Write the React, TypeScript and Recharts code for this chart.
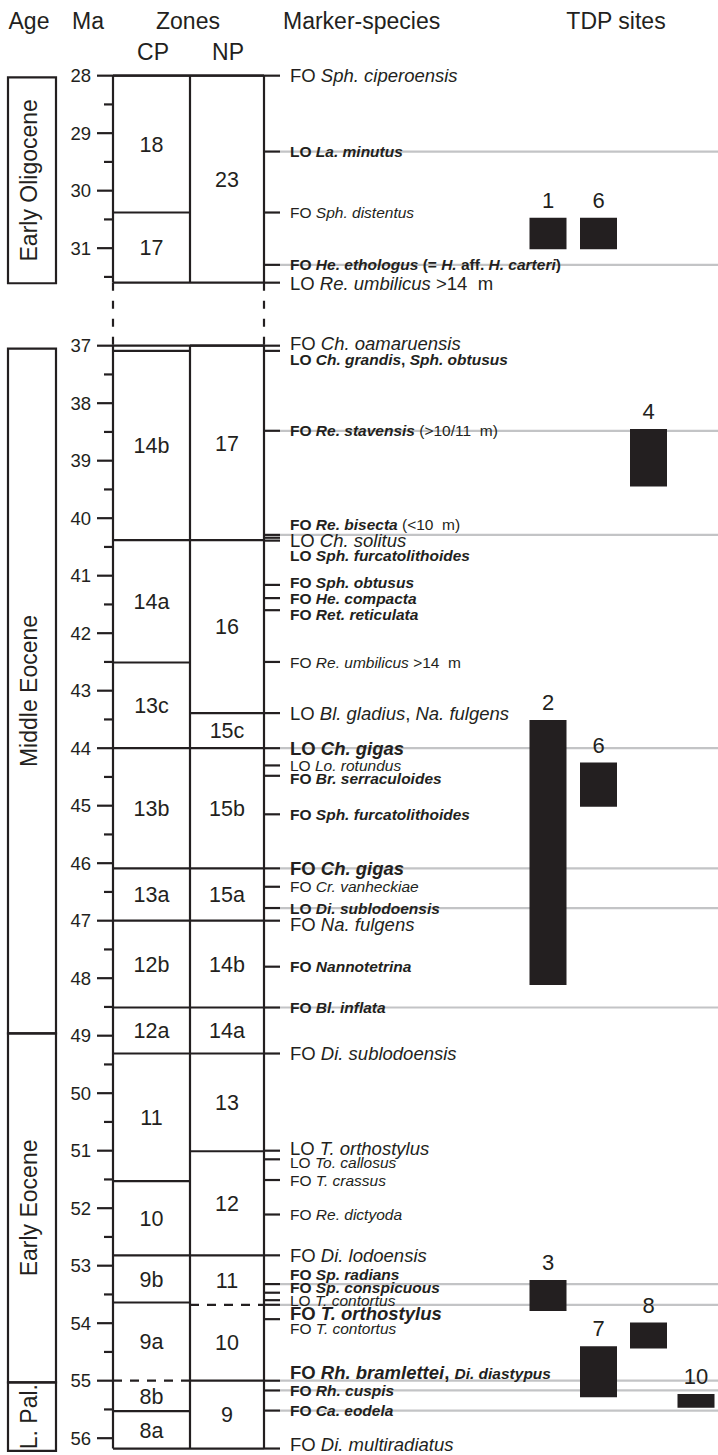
import React from "react";
import {
  ComposedChart,
  XAxis,
  YAxis,
  Scatter,
  ReferenceLine,
  ReferenceArea,
} from "recharts";

// ---- Ma axis ----
const majorTicks = [28, 29, 30, 31, 37, 38, 39, 40, 41, 42, 43, 44, 45, 46, 47, 48, 49, 50, 51, 52, 53, 54, 55, 56];
const minorTicks = [28.5, 29.5, 30.5, 31.5, 37.5, 38.5, 39.5, 40.5, 41.5, 42.5, 43.5, 44.5, 45.5, 46.5, 47.5, 48.5, 49.5, 50.5, 51.5, 52.5, 53.5, 54.5, 55.5];

// two drawn intervals of the column, with a break between them
const frameTop = [28.0, 37.0];
const frameBase = [31.6, 56.18];

// ---- ages ----
const ageNames = ["Early Oligocene", "Middle Eocene", "Early Eocene", "L. Pal."];
const ageTop = [28.03, 37.05, 48.96, 55.03];
const ageBase = [31.61, 48.96, 55.03, 56.22];

// ---- zones ----
const cpNames = ["18", "17", "14b", "14a", "13c", "13b", "13a", "12b", "12a", "11", "10", "9b", "9a", "8b", "8a"];
const cpTop = [28.0, 30.38, 37.09, 40.38, 42.51, 44.0, 46.09, 47.0, 48.51, 49.31, 51.53, 52.82, 53.64, 55.0, 55.53];
const cpBase = [30.38, 31.6, 40.38, 42.51, 44.0, 46.09, 47.0, 48.51, 49.31, 51.53, 52.82, 53.64, 55.0, 55.53, 56.18];
const cpDashed = [55.0];

const npNames = ["23", "17", "16", "15c", "15b", "15a", "14b", "14a", "13", "12", "11", "10", "9"];
const npTop = [28.0, 37.0, 40.38, 43.39, 44.0, 46.09, 47.0, 48.51, 49.31, 51.01, 52.82, 53.68, 55.0];
const npBase = [31.6, 40.38, 43.39, 44.0, 46.09, 47.0, 48.51, 49.31, 51.01, 52.82, 53.68, 55.0, 56.18];
const npDashed = [53.68];

// ---- marker species (*italic*, ^normal weight^, ~smaller~) ----
const markerMa = [
  28.0, 29.32, 30.38, 31.29, 31.6, 37.0, 37.09, 38.48, 40.29, 40.34, 40.39, 41.16, 41.39, 41.6,
  42.5, 43.39, 44.0, 44.3, 44.48, 45.15, 46.09, 46.41, 46.78, 47.0, 47.8, 48.51, 49.31, 51.0,
  51.15, 51.51, 52.11, 52.82, 53.32, 53.47, 53.6, 53.68, 53.93, 55.0, 55.17, 55.52, 56.18,
];
const markerText = [
  "FO *Sph. ciperoensis*",
  "LO *La. minutus*",
  "FO *Sph. distentus*",
  "FO *He. ethologus* (= *H.* aff. *H. carteri*)",
  "LO *Re. umbilicus* >14  m",
  "FO *Ch. oamaruensis*",
  "LO *Ch. grandis*, *Sph. obtusus*",
  "FO *Re. stavensis* ^(>10/11  m)^",
  "FO *Re. bisecta* ^(<10  m)^",
  "LO *Ch. solitus*",
  "LO *Sph. furcatolithoides*",
  "FO *Sph. obtusus*",
  "FO *He. compacta*",
  "FO *Ret. reticulata*",
  "FO *Re. umbilicus* >14  m",
  "LO *Bl. gladius*, *Na. fulgens*",
  "LO *Ch. gigas*",
  "LO *Lo. rotundus*",
  "FO *Br. serraculoides*",
  "FO *Sph. furcatolithoides*",
  "FO *Ch. gigas*",
  "FO *Cr. vanheckiae*",
  "LO *Di. sublodoensis*",
  "FO *Na. fulgens*",
  "FO *Nannotetrina*",
  "FO *Bl. inflata*",
  "FO *Di. sublodoensis*",
  "LO *T. orthostylus*",
  "LO *To. callosus*",
  "FO *T. crassus*",
  "FO *Re. dictyoda*",
  "FO *Di. lodoensis*",
  "FO *Sp. radians*",
  "FO *Sp. conspicuous*",
  "LO *T. contortus*",
  "FO *T. orthostylus*",
  "FO *T. contortus*",
  "FO *Rh. bramlettei*, ~*Di. diastypus*~",
  "FO *Rh. cuspis*",
  "FO *Ca. eodela*",
  "FO *Di. multiradiatus*",
];

// ---- TDP sites ----
const siteNames = ["1", "6", "4", "2", "6", "3", "8", "7", "10"];
const siteTop = [30.47, 30.47, 38.45, 43.51, 44.25, 53.25, 53.99, 54.4, 55.23];
const siteBase = [31.02, 31.02, 39.45, 48.12, 45.02, 53.79, 54.44, 55.29, 55.47];
const siteLane = [0, 1, 2, 0, 1, 0, 2, 1, 3];

// ---- styling of the marker labels (b bold, L large, g grey line, n nudge px) ----
type MStyle = { b?: boolean; L?: boolean; g?: boolean; n?: number };
const markerStyle: MStyle[] = [
  { L: true }, { b: true, g: true }, {}, { b: true, g: true }, { L: true, n: 1 },
  { L: true, n: -2 }, { b: true, n: 9 }, { b: true, g: true }, { b: true, g: true, n: -10 }, { L: true, n: 3 },
  { b: true, n: 15 }, { b: true, n: -2 }, { b: true }, { b: true, n: 4 }, {},
  { L: true }, { b: true, L: true, g: true }, {}, { b: true, n: 3 }, { b: true },
  { b: true, L: true, g: true }, {}, { b: true, g: true }, { L: true, n: 4 }, { b: true },
  { b: true, g: true }, { L: true }, { L: true, n: -2 }, { n: 3 }, {},
  {}, { L: true }, { b: true, g: true, n: -10 }, { b: true, n: -5 }, {},
  { b: true, L: true, g: true, n: 9 }, { n: 9 }, { b: true, L: true, g: true, n: -8 }, { b: true, g: true }, { b: true, g: true },
  { L: true, n: -4 },
];

// ---- layout ----
const W = 718;
const H = 1455;
const PX_PER_MA = 57.5;
const D0 = 26.684;
const GAP_SHIFT = 4.304; // Ma removed by the axis break
const d = (ma: number) => (ma > 34 ? ma - GAP_SHIFT : ma);
const INK = "#231f20";
const GREY = "#c3c4c6";
const LW = 2.2;
const FONT = '"Liberation Sans", Arial, Helvetica, sans-serif';
const X = {
  ageL: 8, ageR: 56, ageText: 37, tickLabel: 91, tickMajor: 97, tickMinor: 104,
  cpL: 113, cpR: 190, npR: 264, mkTick: 280, mkText: 290, right: 718,
};
const laneX = [529.5, 580, 630, 677.5];
const laneW = 37;
const BIG = 18.5;
const SMALL = 15.5;

const seg = (x1: number, m1: number, x2: number, m2: number) => [
  { x: x1, y: d(m1) },
  { x: x2, y: d(m2) },
];

function richParts(s: string) {
  const parts: { t: string; it: boolean; plain: boolean; small: boolean }[] = [];
  let it = false, plain = false, small = false, buf = "";
  const flush = () => {
    if (buf) parts.push({ t: buf, it, plain, small });
    buf = "";
  };
  for (const ch of s) {
    if (ch === "*") { flush(); it = !it; }
    else if (ch === "^") { flush(); plain = !plain; }
    else if (ch === "~") { flush(); small = !small; }
    else buf += ch;
  }
  flush();
  return parts;
}

const tickRows = majorTicks.map((m) => ({ x: X.tickLabel, y: d(m), label: String(m) }));
const zoneRows = [
  ...cpNames.map((n, i) => ({ x: (X.cpL + X.cpR) / 2, y: d((cpTop[i] + cpBase[i]) / 2), label: n })),
  ...npNames.map((n, i) => ({ x: (X.cpR + X.npR) / 2, y: d((npTop[i] + npBase[i]) / 2), label: n })),
];
const markerRows = markerMa.map((m, i) => ({ x: X.mkText, y: d(m), label: markerText[i], i }));
const siteRows = siteNames.map((n, i) => ({ x: laneX[siteLane[i]] + laneW / 2, y: d(siteTop[i]), label: n }));
const ageRows = ageNames.map((n, i) => ({ x: X.ageText, y: d((ageTop[i] + ageBase[i]) / 2), label: n }));

const TickLabel = (p: any) => (
  <text x={p.cx} y={p.cy + 0.36 * 18.5} textAnchor="end" fontSize={18.5} fontFamily={FONT} fill={INK}>
    {p.payload.label}
  </text>
);

const ZoneLabel = (p: any) => (
  <text x={p.cx} y={p.cy + 0.36 * 21.5} textAnchor="middle" fontSize={21.5} fontFamily={FONT} fill={INK}>
    {p.payload.label}
  </text>
);

const SiteLabel = (p: any) => (
  <text x={p.cx} y={p.cy - 10} textAnchor="middle" fontSize={22} fontFamily={FONT} fill={INK}>
    {p.payload.label}
  </text>
);

const AgeLabel = (p: any) => (
  <text
    x={p.cx}
    y={p.cy}
    transform={`rotate(-90 ${p.cx} ${p.cy})`}
    textAnchor="middle"
    fontSize={23}
    fontFamily={FONT}
    fill={INK}
  >
    {p.payload.label}
  </text>
);

const MarkerLabel = (p: any) => {
  const st = markerStyle[p.payload.i] || {};
  const fs = st.L ? BIG : SMALL;
  return (
    <text
      x={p.cx}
      y={p.cy + (st.n || 0) + 0.36 * fs}
      fontSize={fs}
      fontWeight={st.b ? 700 : 400}
      fontFamily={FONT}
      fill={INK}
      style={{ whiteSpace: "pre" }}
    >
      {richParts(p.payload.label).map((part, k) => (
        <tspan
          key={k}
          fontStyle={part.it ? "italic" : "normal"}
          fontWeight={part.plain ? 400 : undefined}
          fontSize={part.small ? SMALL : undefined}
        >
          {part.t}
        </tspan>
      ))}
    </text>
  );
};

const headerStyle = { fontFamily: FONT, fontSize: 23, fill: INK };

export default function App() {
  const zoneLines: React.ReactNode[] = [];
  cpTop.forEach((t, i) => {
    zoneLines.push(
      <ReferenceLine
        key={"cp" + i}
        segment={seg(X.cpL, t, X.cpR, t)}
        stroke={INK}
        strokeWidth={LW}
        strokeDasharray={cpDashed.includes(t) ? "9 8" : undefined}
      />
    );
  });
  npTop.forEach((t, i) => {
    zoneLines.push(
      <ReferenceLine
        key={"np" + i}
        segment={seg(X.cpR, t, X.npR, t)}
        stroke={INK}
        strokeWidth={LW}
        strokeDasharray={npDashed.includes(t) ? "9 8" : undefined}
      />
    );
  });

  return (
    <div style={{ position: "absolute", left: 0, top: 0, width: W, height: H }}>
      <ComposedChart width={W} height={H} margin={{ top: 0, right: 0, bottom: 0, left: 0 }}>
        <XAxis type="number" dataKey="x" domain={[0, W]} hide allowDataOverflow height={0} />
        <YAxis
          type="number"
          dataKey="y"
          domain={[D0, D0 + H / PX_PER_MA]}
          reversed
          hide
          allowDataOverflow
          width={0}
        />

        {/* headers */}
        <text x={29} y={29} textAnchor="middle" {...headerStyle}>Age</text>
        <text x={88} y={29} textAnchor="middle" {...headerStyle}>Ma</text>
        <text x={188} y={29} textAnchor="middle" {...headerStyle}>Zones</text>
        <text x={153} y={60} textAnchor="middle" {...headerStyle}>CP</text>
        <text x={228} y={60} textAnchor="middle" {...headerStyle}>NP</text>
        <text x={283} y={29} {...headerStyle}>Marker-species</text>
        <text x={616} y={29} textAnchor="middle" {...headerStyle}>TDP sites</text>

        {/* grey marker lines */}
        {markerMa.map((m, i) =>
          markerStyle[i].g ? (
            <ReferenceLine key={"g" + i} segment={seg(X.mkTick, m, X.right, m)} stroke={GREY} strokeWidth={2.2} />
          ) : null
        )}

        {/* age boxes */}
        {ageNames.map((n, i) => (
          <ReferenceArea
            key={"age" + i}
            x1={X.ageL}
            x2={X.ageR}
            y1={d(ageTop[i])}
            y2={d(ageBase[i])}
            fill="none"
            stroke={INK}
            strokeWidth={LW}
          />
        ))}

        {/* Ma ticks */}
        {majorTicks.map((m) => (
          <ReferenceLine key={"M" + m} segment={seg(X.tickMajor, m, X.cpL, m)} stroke={INK} strokeWidth={LW} />
        ))}
        {minorTicks.map((m) => (
          <ReferenceLine key={"m" + m} segment={seg(X.tickMinor, m, X.cpL, m)} stroke={INK} strokeWidth={LW} />
        ))}

        {/* zone column frame */}
        {frameTop.map((t, i) =>
          [X.cpL, X.cpR, X.npR].map((x) => (
            <ReferenceLine key={`v${i}-${x}`} segment={seg(x, t, x, frameBase[i])} stroke={INK} strokeWidth={LW} />
          ))
        )}
        {frameTop.map((t, i) => (
          <ReferenceLine key={"ft" + i} segment={seg(X.cpL, t, X.npR, t)} stroke={INK} strokeWidth={LW} />
        ))}
        {frameBase.map((b, i) => (
          <ReferenceLine key={"fb" + i} segment={seg(X.cpL, b, X.npR, b)} stroke={INK} strokeWidth={LW} />
        ))}
        {[X.cpL, X.npR].map((x) => (
          <ReferenceLine
            key={"gap" + x}
            segment={seg(x, frameBase[0], x, frameTop[1])}
            stroke={INK}
            strokeWidth={LW}
            strokeDasharray="8 10"
          />
        ))}
        {zoneLines}

        {/* marker ticks */}
        {markerMa.map((m, i) => (
          <ReferenceLine key={"t" + i} segment={seg(X.npR, m, X.mkTick, m)} stroke={INK} strokeWidth={LW} />
        ))}

        {/* TDP site ranges: thick vertical strokes, drawn above the grey lines */}
        {siteNames.map((n, i) => (
          <ReferenceLine
            key={"s" + i}
            segment={seg(laneX[siteLane[i]] + laneW / 2, siteTop[i], laneX[siteLane[i]] + laneW / 2, siteBase[i])}
            stroke={INK}
            strokeWidth={laneW}
            strokeLinecap="butt"
          />
        ))}

        <Scatter data={tickRows} shape={TickLabel} isAnimationActive={false} />
        <Scatter data={zoneRows} shape={ZoneLabel} isAnimationActive={false} />
        <Scatter data={markerRows} shape={MarkerLabel} isAnimationActive={false} />
        <Scatter data={siteRows} shape={SiteLabel} isAnimationActive={false} />
        <Scatter data={ageRows} shape={AgeLabel} isAnimationActive={false} />
      </ComposedChart>
    </div>
  );
}
